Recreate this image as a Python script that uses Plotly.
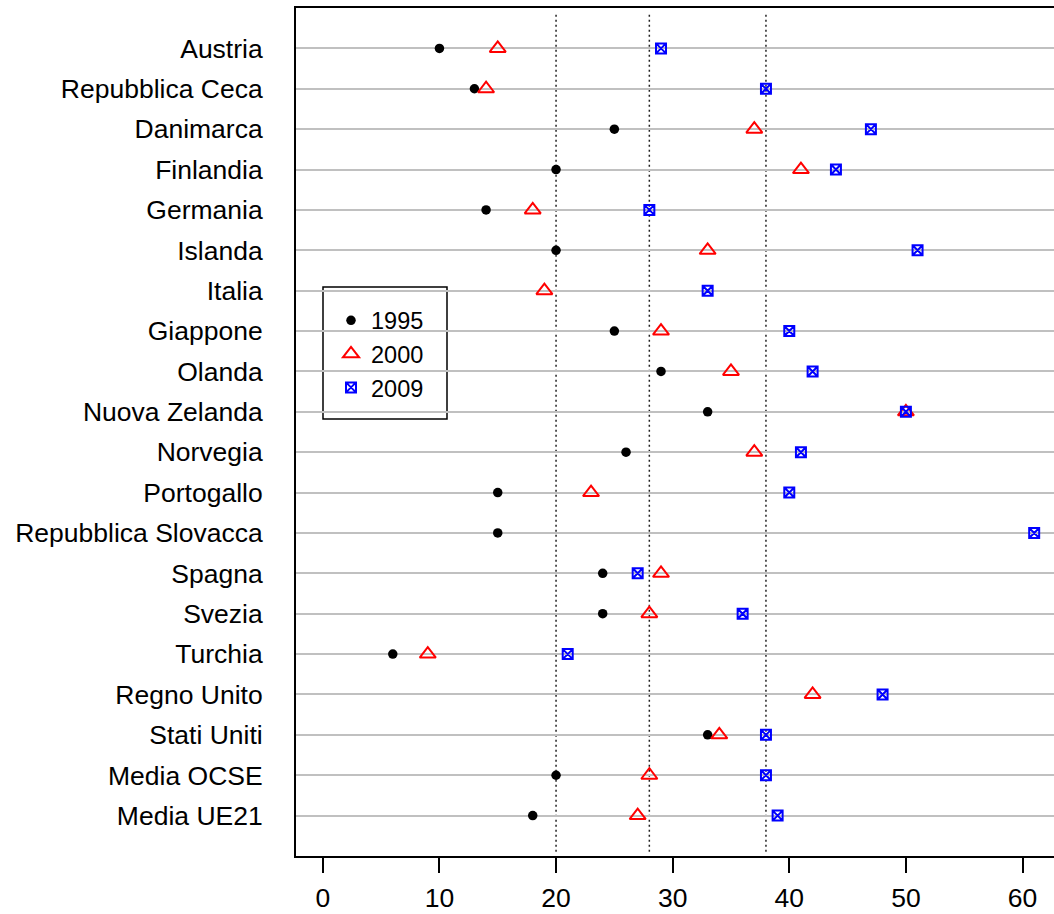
import plotly.graph_objects as go

countries = ["Austria", "Repubblica Ceca", "Danimarca", "Finlandia", "Germania",
             "Islanda", "Italia", "Giappone", "Olanda", "Nuova Zelanda",
             "Norvegia", "Portogallo", "Repubblica Slovacca", "Spagna", "Svezia",
             "Turchia", "Regno Unito", "Stati Uniti", "Media OCSE", "Media UE21"]

v1995 = [10, 13, 25, 20, 14, 20, None, 25, 29, 33, 26, 15, 15, 24, 24, 6, None, 33, 20, 18]
v2000 = [15, 14, 37, 41, 18, 33, 19, 29, 35, 50, 37, 23, None, 29, 28, 9, 42, 34, 28, 27]
v2009 = [29, 38, 47, 44, 28, 51, 33, 40, 42, 50, 41, 40, 61, 27, 36, 21, 48, 38, 38, 39]

ref_lines = [20, 28, 38]
x_ticks = [0, 10, 20, 30, 40, 50, 60]

FONT = "Liberation Sans, Arial, sans-serif"

fig = go.Figure()
fig.add_trace(go.Scatter(x=v1995, y=countries, mode="markers", name="1995",
                         marker=dict(symbol="circle", size=9.5, color="black")))
fig.add_trace(go.Scatter(x=v2000, y=countries, mode="markers", name="2000",
                         marker=dict(symbol="triangle-up-open", size=14, color="red",
                                     line=dict(width=2, color="red"))))
fig.add_trace(go.Scatter(x=v2009, y=countries, mode="markers", name="2009",
                         marker=dict(symbol="square-x-open", size=10, color="blue",
                                     line=dict(width=2, color="blue"))))

shapes = []
for v in ref_lines:
    shapes.append(dict(type="line", xref="x", yref="paper", x0=v, x1=v, y0=0.005, y1=0.995,
                       line=dict(color="#222222", width=1.5, dash="2px,3px"), layer="between"))
# legend box
shapes.append(dict(type="rect", xref="paper", yref="paper",
                   x0=(323 - 296) / 758, x1=(447 - 296) / 758,
                   y0=(856 - 419) / 848, y1=(856 - 287) / 848,
                   fillcolor="white", line=dict(color="black", width=1.5), layer="between"))

fig.update_layout(
    width=1054, height=914,
    margin=dict(l=296, r=0, t=8, b=58, autoexpand=False),
    paper_bgcolor="white", plot_bgcolor="white",
    font=dict(family=FONT, size=26.5, color="black"),
    shapes=shapes,
    showlegend=True,
    legend=dict(x=(331 - 296) / 758, y=(856 - 298.5) / 848, xanchor="left", yanchor="top",
                bgcolor="rgba(0,0,0,0)", borderwidth=0, font=dict(size=23.5, family=FONT)),
    xaxis=dict(range=[-2.3, 62.7], tickvals=x_ticks, ticks="outside", ticklen=15,
               tickwidth=2, tickcolor="black", showgrid=False, zeroline=False,
               showline=True, mirror=True, linecolor="black", linewidth=2,
               ticklabelstandoff=2, automargin=False),
    yaxis=dict(type="category", categoryorder="array", categoryarray=countries,
               range=[len(countries), -1], showgrid=True, gridcolor="#C0C0C0", gridwidth=1.8,
               ticks="", showline=True, mirror=False, linecolor="black", linewidth=2,
               zeroline=False, ticklabelstandoff=26, automargin=False),
)

fig.write_html("out.html")
